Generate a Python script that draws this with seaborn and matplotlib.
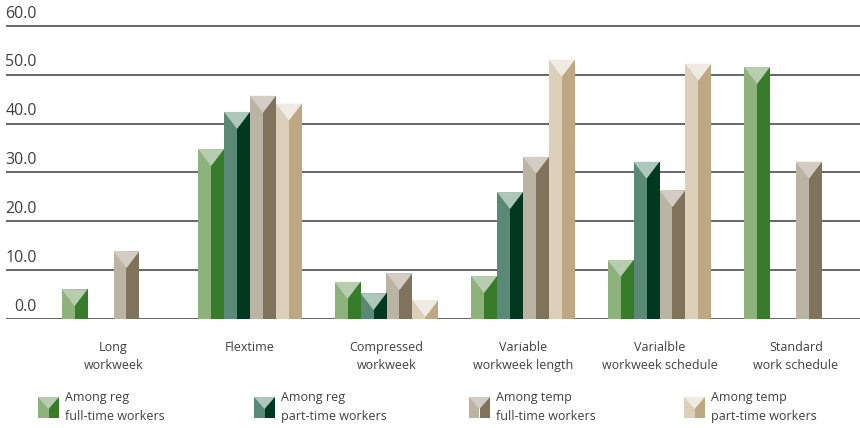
import numpy as np
import pandas as pd
import matplotlib
matplotlib.use("Agg")
import matplotlib.pyplot as plt
from matplotlib.patches import Rectangle, Polygon
import seaborn as sns

# data
categories = ["Long\nworkweek", "Flextime", "Compressed\nworkweek", "Variable\nworkweek length",
              "Varialble\nworkweek schedule", "Standard\nwork schedule"]
series = ["Among reg\nfull-time workers", "Among reg\npart-time workers",
          "Among temp\nfull-time workers", "Among temp\npart-time workers"]
reg_full = [6.1, 34.8, 7.6, 8.8, 12.1, 51.6]
reg_part = [np.nan, 42.4, 5.3, 26.0, 32.2, np.nan]
temp_full = [13.9, 45.7, 9.4, 33.2, 26.4, 32.2]
temp_part = [np.nan, 44.1, 3.9, 53.1, 52.3, np.nan]
yticks = [0, 10, 20, 30, 40, 50, 60]

# face colours: left (light), right (dark), top triangle
left_cols = ["#8db27c", "#5a8a77", "#bbb3a3", "#ddd0bb"]
right_cols = ["#377b2b", "#013820", "#7f735b", "#bda883"]
top_cols = ["#b6cdae", "#aec7bd", "#d5cdc3", "#efebe3"]

rows = []
for s, vals in zip(series, [reg_full, reg_part, temp_full, temp_part]):
    for c, v in zip(categories, vals):
        rows.append({"category": c, "series": s, "value": v})
df = pd.DataFrame(rows).dropna()

sns.set_style("white")
plt.rcParams["font.family"] = ["Open Sans", "DejaVu Sans"]
text_col = "#404040"

W, H = 860, 428
fig = plt.figure(figsize=(W / 100, H / 100), dpi=100)
# axes: x from 6px to 860px, y=0 at 319px, y=60 at 26px
ppu = (319 - 26) / 60
ytop = 61
ax = fig.add_axes([6 / W, (H - 319) / H, (W - 6) / W, (ytop * ppu) / H])

sns.barplot(data=df, x="category", y="value", hue="series", order=categories,
            hue_order=series, palette=left_cols, saturation=1, width=0.76,
            errorbar=None, legend=False, linewidth=0, ax=ax)

depth = 17 / ppu  # triangle depth in data units
for i, cont in enumerate(ax.containers):
    for p in cont.patches:
        x, w, h = p.get_x(), p.get_width(), p.get_height()
        if not np.isfinite(h) or h <= 0:
            continue
        p.set_zorder(2)
        ax.add_patch(Rectangle((x + w / 2, 0), w / 2, h, facecolor=right_cols[i],
                               linewidth=0, zorder=3))
        ax.add_patch(Polygon([(x, h), (x + w, h), (x + w / 2, h - depth)], closed=True,
                             facecolor=top_cols[i], linewidth=0, zorder=4))

for t in yticks:
    ax.axhline(t, color="#5a5a5a", linewidth=1.3, zorder=1)
    ax.text((37 - 6) / (W - 6), t + 0.9, f"{t:.1f}", transform=ax.get_yaxis_transform(),
            ha="right", va="bottom", fontsize=11.5, color=text_col)

ax.set_xlim((6 - 113.5) / 136.5, (W - 113.5) / 136.5)
ax.set_ylim(0, ytop)
ax.set_yticks([])
ax.set_xlabel("")
ax.set_ylabel("")
ax.tick_params(axis="x", length=0, pad=16)
for lab in ax.get_xticklabels():
    lab.set_fontsize(9)
    lab.set_color(text_col)
    lab.set_linespacing(1.5)
sns.despine(ax=ax, left=True, bottom=True, top=True, right=True)

# legend drawn by hand
leg_x = [38, 254, 469, 684]
mw, mh, md = 21, 21, 12
my_top = 397
for i, s in enumerate(series):
    x0 = leg_x[i]
    def fx(px):
        return px / W
    def fy(py):
        return (H - py) / H
    fig.add_artist(Rectangle((fx(x0), fy(my_top + mh)), mw / 2 / W, mh / H,
                             facecolor=left_cols[i], linewidth=0, transform=fig.transFigure))
    fig.add_artist(Rectangle((fx(x0 + mw / 2), fy(my_top + mh)), mw / 2 / W, mh / H,
                             facecolor=right_cols[i], linewidth=0, transform=fig.transFigure))
    fig.add_artist(Polygon([(fx(x0), fy(my_top)), (fx(x0 + mw), fy(my_top)),
                            (fx(x0 + mw / 2), fy(my_top + md))], closed=True,
                           facecolor=top_cols[i], linewidth=0, transform=fig.transFigure))
    fig.text(fx(x0 + 27), fy(390.5), s, ha="left", va="top", fontsize=9,
             color=text_col, linespacing=1.65)

fig.savefig("out.png", dpi=100)
